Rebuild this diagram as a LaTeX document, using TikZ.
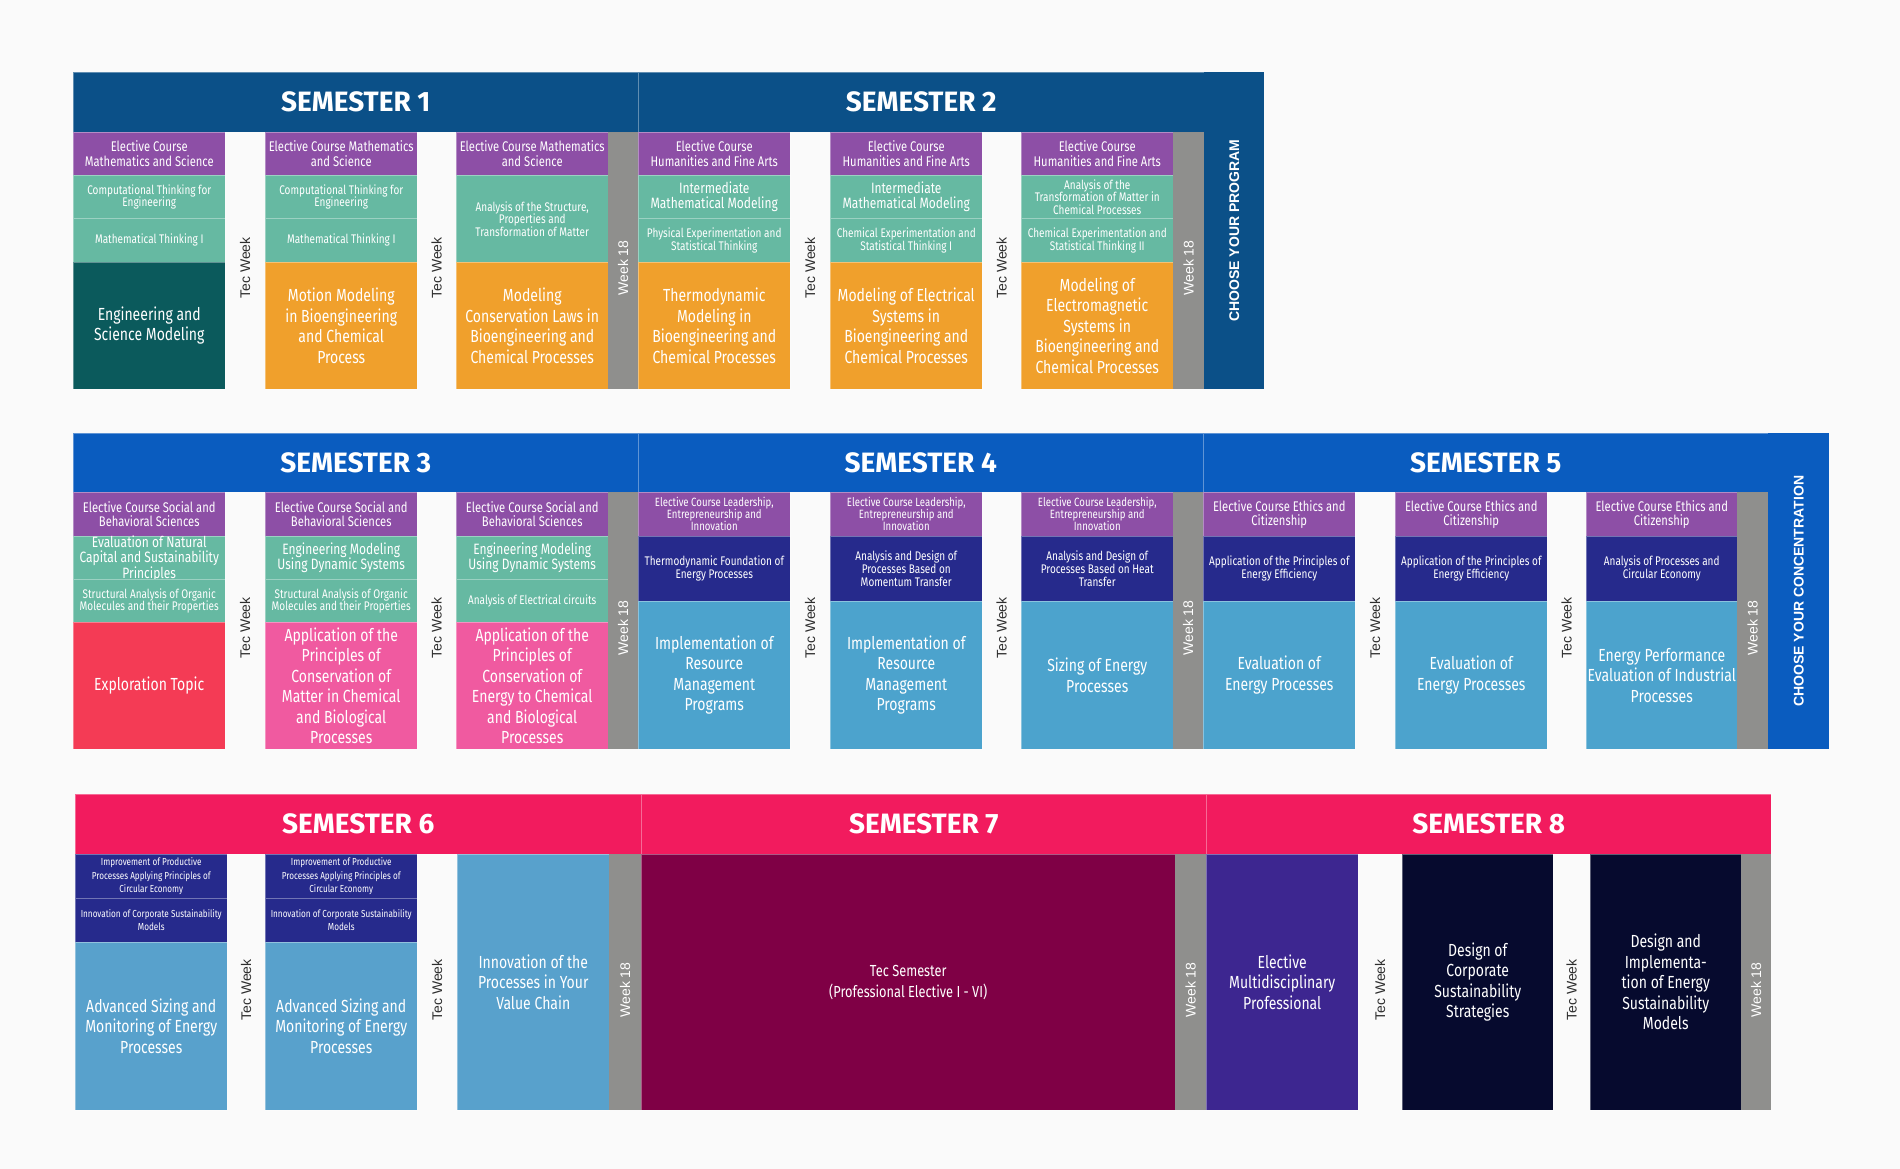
\documentclass[tikz,border=0pt]{standalone}
\usepackage{fontspec}
\setmainfont{Fira Sans}
\newfontfamily\cond[FakeStretch=0.8]{Fira Sans}
\newfontfamily\headfont{Fira Sans}
\newfontfamily\labfont{Liberation Sans}

\definecolor{bgcol}{HTML}{FAFAFA}
\definecolor{hdrA}{HTML}{0B5088}
\definecolor{hdrB}{HTML}{0A5CBF}
\definecolor{hdrC}{HTML}{F21B5E}
\definecolor{purpleC}{HTML}{8D4FA6}
\definecolor{tealC}{HTML}{66B9A2}
\definecolor{dtealC}{HTML}{0B5A5C}
\definecolor{orangeC}{HTML}{F0A02C}
\definecolor{redC}{HTML}{F43B55}
\definecolor{pinkC}{HTML}{F05AA0}
\definecolor{navyC}{HTML}{262A8C}
\definecolor{lblueC}{HTML}{4CA3CD}
\definecolor{lblueD}{HTML}{58A1CC}
\definecolor{maroonC}{HTML}{7F0045}
\definecolor{violetC}{HTML}{3D2690}
\definecolor{nightC}{HTML}{060A2E}
\definecolor{weekC}{HTML}{8F8F8D}
\definecolor{tecC}{HTML}{2E2E2E}

\tikzset{
  cell/.style={anchor=north west, inner sep=0pt, inner xsep=1pt, align=center, text=white,
    draw=white, draw opacity=0.35, line width=0.5pt},
  electxt/.style={font=\cond\fontsize{14}{14.3}\selectfont},
  leadtxt/.style={font=\cond\fontsize{12}{12}\selectfont},
  subtxt/.style={font=\cond\fontsize{12.5}{12.5}\selectfont},
  midtxt/.style={font=\cond\fontsize{15}{14.5}\selectfont},
  navtxt/.style={font=\cond\fontsize{12.5}{13}\selectfont},
  tinytxt/.style={font=\cond\fontsize{10.2}{13.5}\selectfont},
  maintxt/.style={font=\cond\fontsize{17.5}{20.5}\selectfont},
  semhead/.style={anchor=north west, inner sep=0pt, text=white, draw=white, draw opacity=0.35,
    line width=0.5pt, font=\headfont\bfseries\fontsize{28}{30}\selectfont},
  weekbar/.style={anchor=north west, inner sep=0pt, fill=weekC},
  tecweek/.style={rotate=90, inner sep=0pt, text=tecC, font=\labfont\fontsize{14}{16}\selectfont},
  weektext/.style={rotate=90, inner sep=0pt, text=white, font=\labfont\fontsize{14}{16}\selectfont},
  choose/.style={anchor=north west, inner sep=0pt},
  choosetext/.style={rotate=90, inner sep=0pt, text=white, font=\labfont\bfseries\fontsize{14}{16}\selectfont},
}

\newcommand{\course}[6]{\node[cell,#5,minimum width=#3pt,minimum height=#4pt] (#1) at (#2) {#6};}

\begin{document}
\begin{tikzpicture}[x=1pt,y=-1pt]
%background
\fill[bgcol] (0,0) rectangle (1900,1169);
\useasboundingbox (0,0) rectangle (1900,1169);

%headers
\node[semhead, fill=hdrA, minimum width=565pt, minimum height=60pt] (sem1) at (73,72) {SEMESTER 1};
\node[semhead, fill=hdrA, minimum width=566pt, minimum height=60pt] (sem2) at (638,72) {SEMESTER 2};
\node[semhead, fill=hdrB, minimum width=565pt, minimum height=59pt] (sem3) at (73,433) {SEMESTER 3};
\node[semhead, fill=hdrB, minimum width=565pt, minimum height=59pt] (sem4) at (638,433) {SEMESTER 4};
\node[semhead, fill=hdrB, minimum width=565pt, minimum height=59pt] (sem5) at (1203,433) {SEMESTER 5};
\node[semhead, fill=hdrC, minimum width=566pt, minimum height=60pt] (sem6) at (75,794) {SEMESTER 6};
\node[semhead, fill=hdrC, minimum width=565pt, minimum height=60pt] (sem7) at (641,794) {SEMESTER 7};
\node[semhead, fill=hdrC, minimum width=565pt, minimum height=60pt] (sem8) at (1206,794) {SEMESTER 8};

%choose boxes
\node[choose, fill=hdrA, minimum width=60pt, minimum height=317pt] (program) at (1204,72) {};
\node[choosetext] (programtxt) at (program.center) {CHOOSE YOUR PROGRAM};
\node[choose, fill=hdrB, minimum width=61pt, minimum height=316pt] (concentr) at (1768,433) {};
\node[choosetext] (concentrtxt) at (concentr.center) {CHOOSE YOUR CONCENTRATION};

%semester 1
\course{s1a1}{73,132}{152}{43}{fill=purpleC,electxt}{Elective Course\\Mathematics and Science}
\course{s1a2}{73,175}{152}{43}{fill=tealC,subtxt}{Computational Thinking for\\Engineering}
\course{s1a3}{73,218}{152}{44}{fill=tealC,subtxt}{Mathematical Thinking I}
\course{s1a4}{73,262}{152}{127}{fill=dtealC,maintxt}{Engineering and\\Science Modeling}
\course{s1b1}{265,132}{152}{43}{fill=purpleC,electxt}{Elective Course Mathematics\\and Science}
\course{s1b2}{265,175}{152}{43}{fill=tealC,subtxt}{Computational Thinking for\\Engineering}
\course{s1b3}{265,218}{152}{44}{fill=tealC,subtxt}{Mathematical Thinking I}
\course{s1b4}{265,262}{152}{127}{fill=orangeC,maintxt}{Motion Modeling\\in Bioengineering\\and Chemical\\Process}
\course{s1c1}{456,132}{152}{43}{fill=purpleC,electxt}{Elective Course Mathematics\\and Science}
\course{s1c2}{456,175}{152}{87}{fill=tealC,subtxt}{Analysis of the Structure,\\Properties and\\Transformation of Matter}
\course{s1c3}{456,262}{152}{127}{fill=orangeC,maintxt}{Modeling\\Conservation Laws in\\Bioengineering and\\Chemical Processes}

%semester 2
\course{s2a1}{638,132}{152}{43}{fill=purpleC,electxt}{Elective Course\\Humanities and Fine Arts}
\course{s2a2}{638,175}{152}{43}{fill=tealC,midtxt}{Intermediate\\Mathematical Modeling}
\course{s2a3}{638,218}{152}{44}{fill=tealC,subtxt}{Physical Experimentation and\\Statistical Thinking}
\course{s2a4}{638,262}{152}{127}{fill=orangeC,maintxt}{Thermodynamic\\Modeling in\\Bioengineering and\\Chemical Processes}
\course{s2b1}{830,132}{152}{43}{fill=purpleC,electxt}{Elective Course\\Humanities and Fine Arts}
\course{s2b2}{830,175}{152}{43}{fill=tealC,midtxt}{Intermediate\\Mathematical Modeling}
\course{s2b3}{830,218}{152}{44}{fill=tealC,subtxt}{Chemical Experimentation and\\Statistical Thinking I}
\course{s2b4}{830,262}{152}{127}{fill=orangeC,maintxt}{Modeling of Electrical\\Systems in\\Bioengineering and\\Chemical Processes}
\course{s2c1}{1021,132}{152}{43}{fill=purpleC,electxt}{Elective Course\\Humanities and Fine Arts}
\course{s2c2}{1021,175}{152}{43}{fill=tealC,subtxt}{Analysis of the\\Transformation of Matter in\\Chemical Processes}
\course{s2c3}{1021,218}{152}{44}{fill=tealC,subtxt}{Chemical Experimentation and\\Statistical Thinking II}
\course{s2c4}{1021,262}{152}{127}{fill=orangeC,maintxt}{Modeling of\\Electromagnetic\\Systems in\\Bioengineering and\\Chemical Processes}

%semester 3
\course{s3a1}{73,492}{152}{44}{fill=purpleC,electxt}{Elective Course Social and\\Behavioral Sciences}
\course{s3a2}{73,536}{152}{43}{fill=tealC,midtxt}{Evaluation of Natural\\Capital and Sustainability\\Principles}
\course{s3a3}{73,579}{152}{43}{fill=tealC,subtxt}{Structural Analysis of Organic\\Molecules and their Properties}
\course{s3a4}{73,622}{152}{127}{fill=redC,maintxt}{Exploration Topic}
\course{s3b1}{265,492}{152}{44}{fill=purpleC,electxt}{Elective Course Social and\\Behavioral Sciences}
\course{s3b2}{265,536}{152}{43}{fill=tealC,midtxt}{Engineering Modeling\\Using Dynamic Systems}
\course{s3b3}{265,579}{152}{43}{fill=tealC,subtxt}{Structural Analysis of Organic\\Molecules and their Properties}
\course{s3b4}{265,622}{152}{127}{fill=pinkC,maintxt}{Application of the\\Principles of\\Conservation of\\Matter in Chemical\\and Biological\\Processes}
\course{s3c1}{456,492}{152}{44}{fill=purpleC,electxt}{Elective Course Social and\\Behavioral Sciences}
\course{s3c2}{456,536}{152}{43}{fill=tealC,midtxt}{Engineering Modeling\\Using Dynamic Systems}
\course{s3c3}{456,579}{152}{43}{fill=tealC,subtxt}{Analysis of Electrical circuits}
\course{s3c4}{456,622}{152}{127}{fill=pinkC,maintxt}{Application of the\\Principles of\\Conservation of\\Energy to Chemical\\and Biological\\Processes}

%semester 4
\course{s4a1}{638,492}{152}{44}{fill=purpleC,leadtxt}{Elective Course Leadership,\\Entrepreneurship and\\Innovation}
\course{s4a2}{638,536}{152}{65}{fill=navyC,navtxt}{Thermodynamic Foundation of\\Energy Processes}
\course{s4a3}{638,601}{152}{148}{fill=lblueC,maintxt}{Implementation of\\Resource\\Management\\Programs}
\course{s4b1}{830,492}{152}{44}{fill=purpleC,leadtxt}{Elective Course Leadership,\\Entrepreneurship and\\Innovation}
\course{s4b2}{830,536}{152}{65}{fill=navyC,navtxt}{Analysis and Design of\\Processes Based on\\Momentum Transfer}
\course{s4b3}{830,601}{152}{148}{fill=lblueC,maintxt}{Implementation of\\Resource\\Management\\Programs}
\course{s4c1}{1021,492}{152}{44}{fill=purpleC,leadtxt}{Elective Course Leadership,\\Entrepreneurship and\\Innovation}
\course{s4c2}{1021,536}{152}{65}{fill=navyC,navtxt}{Analysis and Design of\\Processes Based on Heat\\Transfer}
\course{s4c3}{1021,601}{152}{148}{fill=lblueC,maintxt}{Sizing of Energy\\Processes}

%semester 5
\course{s5a1}{1203,492}{152}{44}{fill=purpleC,electxt}{Elective Course Ethics and\\Citizenship}
\course{s5a2}{1203,536}{152}{65}{fill=navyC,navtxt}{Application of the Principles of\\Energy Efficiency}
\course{s5a3}{1203,601}{152}{148}{fill=lblueC,maintxt}{Evaluation of\\Energy Processes}
\course{s5b1}{1395,492}{152}{44}{fill=purpleC,electxt}{Elective Course Ethics and\\Citizenship}
\course{s5b2}{1395,536}{152}{65}{fill=navyC,navtxt}{Application of the Principles of\\Energy Efficiency}
\course{s5b3}{1395,601}{152}{148}{fill=lblueC,maintxt}{Evaluation of\\Energy Processes}
\course{s5c1}{1586,492}{151}{44}{fill=purpleC,electxt}{Elective Course Ethics and\\Citizenship}
\course{s5c2}{1586,536}{151}{65}{fill=navyC,navtxt}{Analysis of Processes and\\Circular Economy}
\course{s5c3}{1586,601}{151}{148}{fill=lblueC,maintxt}{Energy Performance\\Evaluation of Industrial\\Processes}

%semester 6
\course{s6a1}{75,854}{152}{44}{fill=navyC,tinytxt}{Improvement of Productive\\Processes Applying Principles of\\Circular Economy}
\course{s6a2}{75,898}{152}{44}{fill=navyC,tinytxt}{Innovation of Corporate Sustainability\\Models}
\course{s6a3}{75,942}{152}{168}{fill=lblueD,maintxt}{Advanced Sizing and\\Monitoring of Energy\\Processes}
\course{s6b1}{265,854}{152}{44}{fill=navyC,tinytxt}{Improvement of Productive\\Processes Applying Principles of\\Circular Economy}
\course{s6b2}{265,898}{152}{44}{fill=navyC,tinytxt}{Innovation of Corporate Sustainability\\Models}
\course{s6b3}{265,942}{152}{168}{fill=lblueD,maintxt}{Advanced Sizing and\\Monitoring of Energy\\Processes}
\course{s6c1}{457,854}{152}{256}{fill=lblueD,maintxt}{Innovation of the\\Processes in Your\\Value Chain}

%semester 7
\course{s7a1}{641,854}{534}{256}{fill=maroonC,font=\cond\fontsize{16}{21}\selectfont}{Tec Semester\\(Professional Elective I - VI)}

%semester 8
\course{s8a1}{1206,854}{152}{256}{fill=violetC,maintxt}{Elective\\Multidisciplinary\\Professional}
\course{s8b1}{1402,854}{151}{256}{fill=nightC,maintxt}{Design of\\Corporate\\Sustainability\\Strategies}
\course{s8c1}{1590,854}{151}{256}{fill=nightC,maintxt}{Design and\\Implementa-\\tion of Energy\\Sustainability\\Models}

%week 18 bars
\foreach \x/\y/\w/\h/\c [count=\i] in {608/132/30/257/268, 1173/132/31/257/268,
    608/492/30/257/628, 1173/492/30/257/628, 1737/492/31/257/628,
    609/854/32/256/990, 1175/854/31/256/990, 1741/854/30/256/990}{
  \node[weekbar, minimum width=\w pt, minimum height=\h pt] (wk\i) at (\x,\y) {};
  \node[weektext] (wklab\i) at (\x+\w/2,\c) {Week 18};
}

%tec weeks
\foreach \x/\y [count=\i] in {245/268, 436.5/268, 810/268, 1001.5/268,
    245/628, 436.5/628, 810/628, 1001.5/628, 1375/628, 1566.5/628,
    246/990, 437/990, 1380/990, 1571.5/990}{
  \node[tecweek] (tec\i) at (\x,\y) {Tec Week};
}
\end{tikzpicture}
\end{document}
